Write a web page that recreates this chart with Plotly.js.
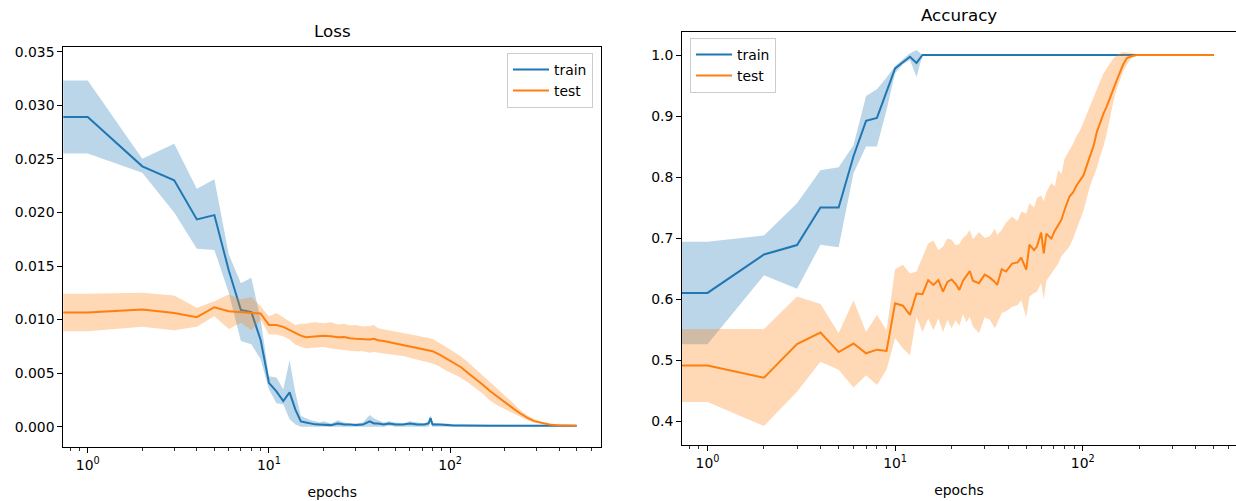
<!DOCTYPE html>
<html>
<head>
<meta charset="utf-8">
<script src="https://cdn.plot.ly/plotly-3.0.1.min.js"></script>
<style>
html,body{margin:0;padding:0;background:#fff;overflow:hidden}
#chart{width:1236px;height:501px}
</style>
</head>
<body>
<div id="chart"></div>
<script>
// ---------- data ----------
const lossEpochs = [0,1,2,3,4,5,6,7,8,9,10,11,12,13,14,15,16,17,18,19,
  20,22,24,26,28,30,33,36,38,40,43,46,50,55,60,66,72,76,78,80,
  88,96,105,115,126,138,151,166,182,200,220,242,266,292,321,353,388,427,470,499];

const trainLoss = [0.0289,0.0289,0.0243,0.0230,0.01935,0.01975,0.0146,0.0109,0.0107,0.0081,0.0041,0.0033,0.0024,0.0032,0.0016,0.0005,0.0004,0.0003,0.00022,0.0002,
  0.0002,0.00015,0.0003,0.0002,0.0002,0.00015,0.0002,0.0005,0.0003,0.0003,
  0.0002,0.0003,0.0002,0.0002,0.0003,0.0002,0.0002,0.0003,0.0008,0.0002,
  0.0002,0.00015,0.00012,0.00012,0.0001,0.0001,0.0001,0.0001,0.0001,0.0001,
  0.0001,0.0001,0.0001,0.0001,0.0001,0.0001,0.0001,0.0001,0.0001,0.0001];
const trainLossHi = [0.0323,0.0323,0.0250,0.0264,0.0222,0.0231,0.0161,0.0134,0.0139,0.0100,0.0047,0.0046,0.0035,0.0062,0.0032,0.0010,0.0008,0.0006,0.0005,0.0004,
  0.0005,0.0003,0.0006,0.0004,0.0003,0.0003,0.0004,0.0011,0.0008,0.0006,
  0.0004,0.0005,0.0004,0.0003,0.0005,0.0004,0.0003,0.0005,0.0011,0.0004,
  0.0003,0.0003,0.0002,0.0002,0.0002,0.0002,0.0002,0.00015,0.00015,0.00015,
  0.00015,0.00015,0.00015,0.00015,0.00015,0.00015,0.00015,0.00015,0.00015,0.00015];
const trainLossLo = [0.0255,0.0255,0.0237,0.0200,0.0166,0.0165,0.0125,0.0080,0.0077,0.0063,0.0035,0.0022,0.0021,0.0007,0.0002,0.0000,0.0000,0.0000,0.0000,0.0000,
  0,0,0,0,0,0,0,0,0,0,
  0,0.0001,0,0,0,0,0,0,0.0004,0,
  0,0,0.00005,0.00005,0.00005,0.00005,0.00005,0.00005,0.00005,0.00005,
  0.00005,0.00005,0.00005,0.00005,0.00005,0.00005,0.00005,0.00005,0.00005,0.00005];

const testLoss = [0.01065,0.01065,0.01093,0.01062,0.01022,0.01115,0.01078,0.01069,0.01056,0.01056,0.0095,0.0095,0.00932,0.0090,0.00876,0.0085,0.00835,0.0084,0.00845,0.0085,
  0.00850,0.00845,0.00835,0.00838,0.00826,0.00822,0.00818,0.00815,0.00820,0.00808,
  0.00800,0.00790,0.00782,0.00768,0.00755,0.00740,0.00722,0.00715,0.00710,0.00705,
  0.00670,0.00630,0.00595,0.00555,0.00500,0.00448,0.00395,0.00333,0.00280,0.00228,
  0.00178,0.00128,0.00085,0.00052,0.00033,0.00020,0.00014,0.00011,0.00010,0.00010];
const testLossHi = [0.0124,0.0124,0.0125,0.01224,0.0111,0.0117,0.01234,0.0119,0.0121,0.01125,0.0103,0.01062,0.0102,0.00984,0.0095,0.0096,0.0096,0.0097,0.00975,0.0097,
  0.00965,0.00975,0.00955,0.0096,0.00945,0.0095,0.00935,0.0094,0.0095,0.0092,
  0.0091,0.0090,0.00895,0.0088,0.00865,0.0085,0.00835,0.0083,0.0082,0.0082,
  0.0078,0.0074,0.0070,0.00655,0.0060,0.0054,0.0048,0.0042,0.0036,0.0029,
  0.0023,0.0016,0.00108,0.0007,0.00045,0.00028,0.00019,0.00015,0.00013,0.00013];
const testLossLo = [0.0089,0.0089,0.00932,0.0090,0.00932,0.0103,0.00913,0.0097,0.0090,0.0100,0.0086,0.0086,0.00844,0.00813,0.00766,0.0075,0.0073,0.00735,0.0074,0.0074,
  0.00745,0.0073,0.00725,0.0072,0.0071,0.00705,0.00705,0.0069,0.0070,0.0069,
  0.00685,0.00675,0.0067,0.0066,0.00645,0.0063,0.0061,0.0060,0.00598,0.0059,
  0.0056,0.0052,0.0049,0.00455,0.0041,0.0036,0.0031,0.00245,0.0020,0.00165,
  0.0013,0.00095,0.00062,0.00036,0.00022,0.00013,0.00009,0.00007,0.00007,0.00007];

const accEpochs = [0,1,2,3,4,5,6,7,8,9,10,11,12,13,14,15,16,17,18,19,
  20,21,22,23,24,25,26,28,30,32,34,35,37,39,42,45,47,50,52,55,
  57,60,62,64,68,71,74,77,80,85,89,93,97,101,109,114,119,124,129,134,
  140,146,152,158,164,172,182,194,210,250,300,350,400,450,499];

const trainAcc = [0.610,0.610,0.673,0.6885,0.750,0.750,0.834,0.892,0.897,0.940,0.978,0.988,0.997,0.987,1,1,1,1,1,1,
  1,1,1,1,1,1,1,1,1,1,1,1,1,1,1,1,1,1,1,1,
  1,1,1,1,1,1,1,1,1,1,1,1,1,1,1,1,1,1,1,1,
  1,1,1,1,1,1,1,1,1,1,1,1,1,1,1];
const trainAccHi = [0.694,0.694,0.704,0.757,0.811,0.816,0.852,0.933,0.944,0.963,0.982,0.993,1.003,1.008,1,1,1,1,1,1,
  1,1,1,1,1,1,1,1,1,1,1,1,1,1,1,1,1,1,1,1,
  1,1,1,1,1,1,1,1,1,1,1,1,1,1,1,1,1,1,1,1,
  1,1,1,1,1,1,1,1,1,1,1,1,1,1,1];
const trainAccLo = [0.526,0.526,0.639,0.617,0.689,0.685,0.806,0.850,0.850,0.910,0.970,0.985,0.992,0.964,1,1,1,1,1,1,
  1,1,1,1,1,1,1,1,1,1,1,1,1,1,1,1,1,1,1,1,
  1,1,1,1,1,1,1,1,1,1,1,1,1,1,1,1,1,1,1,1,
  1,1,1,1,1,1,1,1,1,1,1,1,1,1,1];

const testAcc = [0.491,0.491,0.471,0.526,0.545,0.513,0.527,0.511,0.517,0.515,0.593,0.589,0.574,0.609,0.608,0.631,0.623,0.631,0.612,0.628,
  0.632,0.625,0.615,0.630,0.638,0.646,0.630,0.626,0.640,0.635,
  0.628,0.623,0.649,0.645,0.658,0.660,0.668,0.648,0.689,0.680,
  0.686,0.709,0.675,0.707,0.699,0.712,0.721,0.730,0.746,0.768,
  0.775,0.787,0.795,0.803,0.833,0.850,0.874,0.890,0.904,0.915,
  0.932,0.945,0.959,0.972,0.984,0.995,0.998,1.0,1.0,1.0,
  1.0,1.0,1.0,1.0,1.0];
const testAccHi = [0.551,0.551,0.551,0.604,0.592,0.544,0.598,0.546,0.574,0.549,0.649,0.656,0.642,0.645,0.669,0.691,0.696,0.680,0.686,0.699,
  0.697,0.688,0.690,0.700,0.705,0.713,0.698,0.710,0.700,0.703,
  0.715,0.705,0.713,0.725,0.735,0.728,0.743,0.740,0.757,0.750,
  0.765,0.770,0.760,0.775,0.790,0.785,0.811,0.805,0.830,0.844,
  0.855,0.868,0.877,0.890,0.915,0.930,0.945,0.959,0.970,0.978,
  0.986,0.995,1.000,1.003,1.005,1.004,1.003,1.001,1.0,1.0,
  1.0,1.0,1.0,1.0,1.0];
const testAccLo = [0.431,0.431,0.392,0.448,0.497,0.484,0.455,0.475,0.459,0.484,0.536,0.519,0.508,0.571,0.546,0.568,0.549,0.568,0.546,0.566,
  0.552,0.565,0.556,0.575,0.562,0.571,0.555,0.544,0.570,0.566,
  0.552,0.560,0.577,0.580,0.587,0.590,0.598,0.570,0.604,0.610,
  0.612,0.626,0.600,0.630,0.642,0.650,0.658,0.670,0.676,0.686,
  0.700,0.715,0.730,0.745,0.784,0.800,0.815,0.835,0.850,0.870,
  0.899,0.925,0.945,0.959,0.972,0.985,0.995,0.999,1.0,1.0,
  1.0,1.0,1.0,1.0,1.0];

const seriesNames = ['train', 'test'];
const subplotTitles = ['Loss', 'Accuracy'];
const xAxisLabel = 'epochs';
const xTickVals = [1, 10, 100];
const xTickText = ['10<sup>0</sup>', '10<sup>1</sup>', '10<sup>2</sup>'];

// ---------- drawing ----------
const W = 1236, H = 501;
const BLUE = '#1f77b4', ORANGE = '#ff7f0e';
const BLUE_FILL = 'rgba(31,119,180,0.3)', ORANGE_FILL = 'rgba(255,127,14,0.3)';
const FONT = 'DejaVu Sans, Liberation Sans, sans-serif';
// matplotlib clips non-positive values on a log axis to a tiny positive number
const logX = e => (e > 0 ? e : 0.01);

function band(xs, lo, hi, fill, xa, ya) {
  const x = xs.map(logX);
  return [
    {x: x, y: lo, xaxis: xa, yaxis: ya, type: 'scatter', mode: 'lines',
     line: {width: 0, color: fill}, hoverinfo: 'skip', showlegend: false},
    {x: x, y: hi, xaxis: xa, yaxis: ya, type: 'scatter', mode: 'lines',
     line: {width: 0, color: fill}, fill: 'tonexty', fillcolor: fill,
     hoverinfo: 'skip', showlegend: false}
  ];
}
function line(xs, ys, name, color, xa, ya, legend) {
  return {x: xs.map(logX), y: ys, xaxis: xa, yaxis: ya, type: 'scatter', mode: 'lines',
          name: name, legend: legend, line: {color: color, width: 2}};
}

const traces = [].concat(
  band(lossEpochs, trainLossLo, trainLossHi, BLUE_FILL, 'x', 'y'),
  [line(lossEpochs, trainLoss, seriesNames[0], BLUE, 'x', 'y', 'legend')],
  band(lossEpochs, testLossLo, testLossHi, ORANGE_FILL, 'x', 'y'),
  [line(lossEpochs, testLoss, seriesNames[1], ORANGE, 'x', 'y', 'legend')],
  band(accEpochs, trainAccLo, trainAccHi, BLUE_FILL, 'x2', 'y2'),
  [line(accEpochs, trainAcc, seriesNames[0], BLUE, 'x2', 'y2', 'legend2')],
  band(accEpochs, testAccLo, testAccHi, ORANGE_FILL, 'x2', 'y2'),
  [line(accEpochs, testAcc, seriesNames[1], ORANGE, 'x2', 'y2', 'legend2')]
);

const minorVals = [];
[0.1, 1, 10, 100].forEach(d => { for (let k = 2; k <= 9; k++) minorVals.push(+(k * d).toPrecision(3)); });

function xAxis(domain, range, anchor) {
  return {
    type: 'log', domain: domain, range: range, anchor: anchor,
    tickmode: 'array', tickvals: xTickVals, ticktext: xTickText,
    ticks: 'outside', ticklen: 5, tickwidth: 1, tickcolor: '#000',
    tickfont: {family: FONT, size: 13.9, color: '#000'},
    minor: {tickmode: 'array', tickvals: minorVals, ticks: 'outside', ticklen: 3,
            tickwidth: 0.8, tickcolor: '#000', showgrid: false},
    showline: true, linecolor: '#000', linewidth: 1, mirror: true,
    showgrid: false, zeroline: false,
    title: {text: xAxisLabel, font: {family: FONT, size: 13.9, color: '#000'}, standoff: 15}
  };
}
function yAxis(domain, range, dtick, fmt, anchor, mirror) {
  return {
    domain: domain, range: range, anchor: anchor,
    tick0: 0, dtick: dtick, tickformat: fmt,
    ticks: 'outside', ticklen: 5, tickwidth: 1, tickcolor: '#000',
    tickfont: {family: FONT, size: 13.9, color: '#000'},
    showline: true, linecolor: '#000', linewidth: 1, mirror: mirror,
    showgrid: false, zeroline: false
  };
}

const legendStyle = {
  bgcolor: 'rgba(255,255,255,0.8)', bordercolor: '#cccccc', borderwidth: 1,
  font: {family: FONT, size: 13.9, color: '#000'}, tracegroupgap: 0,
  traceorder: 'normal', itemwidth: 36
};

const layout = {
  width: W, height: H,
  margin: {l: 0, r: 0, t: 0, b: 0},
  paper_bgcolor: '#fff', plot_bgcolor: '#fff',
  font: {family: FONT, size: 13.9, color: '#000'},
  showlegend: true,
  xaxis: xAxis([63.3 / W, 601 / W], [-0.135, 2.833], 'y'),
  yaxis: yAxis([1 - 447.3 / H, 1 - 47.3 / H], [-0.00192, 0.03541], 0.005, '.3f', 'x', true),
  xaxis2: xAxis([682 / W, 1], [-0.136, 2.817], 'y2'),
  yaxis2: yAxis([1 - 445 / H, 1 - 31.7 / H], [0.3607, 1.0382], 0.1, '.1f', 'x2', false),
  legend: Object.assign({x: 593 / W, xanchor: 'right', y: 1 - 53 / H, yanchor: 'top'}, legendStyle),
  legend2: Object.assign({x: 690 / W, xanchor: 'left', y: 1 - 38 / H, yanchor: 'top'}, legendStyle),
  annotations: [
    {text: subplotTitles[0], xref: 'paper', yref: 'paper', x: 332.2 / W, y: 1 - 31 / H,
     xanchor: 'center', yanchor: 'middle', showarrow: false,
     font: {family: FONT, size: 16.7, color: '#000'}},
    {text: subplotTitles[1], xref: 'paper', yref: 'paper', x: 959 / W, y: 1 - 15 / H,
     xanchor: 'center', yanchor: 'middle', showarrow: false,
     font: {family: FONT, size: 16.7, color: '#000'}}
  ]
};

Plotly.newPlot('chart', traces, layout, {staticPlot: true, displayModeBar: false});
</script>
</body>
</html>
